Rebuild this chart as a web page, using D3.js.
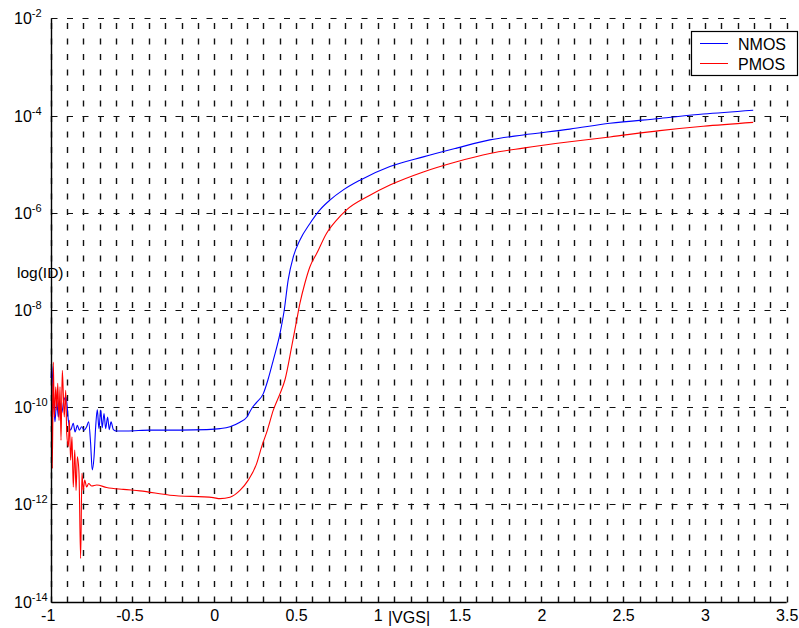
<!DOCTYPE html>
<html>
<head>
<meta charset="utf-8">
<script src="https://cdn.jsdelivr.net/npm/d3@7"></script>
<style>
  html, body { margin: 0; padding: 0; background: #fff; }
  svg { display: block; font-family: "Liberation Sans", Arial, Helvetica, sans-serif; }
</style>
</head>
<body>
<svg id="chart" width="799" height="628"></svg>
<script>
// Drain current vs |VGS| for an NMOS and a PMOS device (log10 of ID)
const nmosVgs = [
  -0.998, -0.994, -0.984, -0.974, -0.963, -0.954, -0.943, -0.933, -0.919, -0.906,
  -0.892, -0.878, -0.862, -0.851, -0.837, -0.825, -0.811, -0.796, -0.780, -0.768,
  -0.756, -0.746, -0.735, -0.725, -0.715, -0.705, -0.694, -0.685, -0.674, -0.664,
  -0.652, -0.642, -0.631, -0.617, -0.597, -0.535, -0.393, -0.210, -0.046, 0.035,
  0.096, 0.157, 0.200, 0.230, 0.259, 0.300, 0.328, 0.361, 0.402, 0.428,
  0.452, 0.483, 0.524, 0.585, 0.646, 0.707, 0.789, 0.891, 1.074, 1.278,
  1.482, 1.685, 1.889, 2.174, 2.419, 2.724, 2.989, 3.295
];
const nmosLogId = [
  -9.40, -9.13, -9.71, -10.30, -9.85, -10.20, -9.92, -10.12, -9.85, -9.79,
  -10.27, -10.47, -10.33, -10.51, -10.37, -10.47, -10.40, -10.47, -10.40, -10.30,
  -10.74, -11.29, -11.02, -10.40, -10.05, -10.44, -10.06, -10.42, -10.13, -10.44,
  -10.20, -10.46, -10.30, -10.46, -10.49, -10.49, -10.47, -10.47, -10.46, -10.44,
  -10.40, -10.31, -10.20, -10.02, -9.90, -9.72, -9.44, -9.03, -8.48, -8.00,
  -7.38, -6.91, -6.56, -6.22, -5.94, -5.74, -5.53, -5.33, -5.05, -4.85,
  -4.67, -4.50, -4.40, -4.28, -4.16, -4.06, -3.97, -3.89
];
const pmosVgs = [
  -0.994, -0.990, -0.984, -0.978, -0.969, -0.963, -0.957, -0.949, -0.943, -0.937,
  -0.929, -0.923, -0.917, -0.908, -0.902, -0.892, -0.886, -0.878, -0.870, -0.862,
  -0.853, -0.845, -0.837, -0.827, -0.817, -0.809, -0.801, -0.792, -0.780, -0.768,
  -0.749, -0.719, -0.658, -0.556, -0.454, -0.271, -0.006, 0.035, 0.096, 0.157,
  0.208, 0.259, 0.290, 0.325, 0.361, 0.402, 0.432, 0.473, 0.504, 0.524,
  0.554, 0.585, 0.626, 0.687, 0.748, 0.809, 0.952, 1.074, 1.278, 1.482,
  1.685, 1.889, 2.174, 2.419, 2.724, 2.989, 3.295
];
const pmosLogId = [
  -9.51, -11.26, -9.07, -10.20, -9.58, -10.06, -9.51, -10.27, -9.58, -10.68,
  -9.24, -9.72, -10.20, -9.65, -10.54, -10.81, -10.27, -11.09, -10.61, -11.64,
  -10.88, -11.71, -11.02, -11.36, -13.11, -11.36, -11.71, -11.50, -11.64, -11.57,
  -11.62, -11.60, -11.65, -11.69, -11.72, -11.81, -11.86, -11.88, -11.85, -11.71,
  -11.50, -11.16, -10.81, -10.47, -10.06, -9.72, -9.44, -8.76, -8.21, -7.86,
  -7.45, -7.11, -6.84, -6.42, -6.15, -5.94, -5.64, -5.43, -5.16, -4.95,
  -4.78, -4.67, -4.54, -4.44, -4.31, -4.22, -4.14
];

const seriesNames = ["NMOS", "PMOS"];
const seriesColors = ["#0000ff", "#ff0000"];
const xTickValues = [-1, -0.5, 0, 0.5, 1, 1.5, 2, 2.5, 3, 3.5];
const yTickExponents = [-14, -12, -10, -8, -6, -4, -2];
const xGridStep = 0.1;

const svg = d3.select("#chart");
const plotLeft = 50.7, plotRight = 786.7, plotTop = 18.3, plotBottom = 601.7;

const x = d3.scaleLinear().domain([-1, 3.5]).range([plotLeft, plotRight]);
const y = d3.scaleLinear().domain([-14, -2]).range([plotBottom, plotTop]);

const snap = v => Math.round(v) + 0.5;

// dashed grid: vertical at every 0.1 V, horizontal at each labelled decade
const grid = svg.append("g").attr("stroke", "#111").attr("fill", "none");
const gridX = d3.range(0, 46).map(i => -1 + i * xGridStep);
grid.selectAll("line.gx").data(gridX).join("line")
  .attr("class", "gx")
  .attr("x1", d => snap(x(d))).attr("x2", d => snap(x(d)))
  .attr("y1", snap(plotBottom)).attr("y2", plotTop)
  .attr("stroke-width", 1.4)
  .attr("stroke-dasharray", "6,9.5");
grid.selectAll("line.gy").data(yTickExponents).join("line")
  .attr("class", "gy")
  .attr("y1", d => snap(y(d))).attr("y2", d => snap(y(d)))
  .attr("x1", snap(plotLeft)).attr("x2", plotRight)
  .attr("stroke-width", 1.2)
  .attr("stroke-dasharray", "6,9.5");

// curves
const line = d3.line().x(d => x(d[0])).y(d => y(d[1])).curve(d3.curveMonotoneX);
const series = [
  nmosVgs.map((v, i) => [v, nmosLogId[i]]),
  pmosVgs.map((v, i) => [v, pmosLogId[i]])
];
svg.append("g").selectAll("path").data(series).join("path")
  .attr("d", line)
  .attr("fill", "none")
  .attr("stroke", (d, i) => seriesColors[i])
  .attr("stroke-width", 1.1)
  .attr("stroke-linejoin", "round");

// solid axis lines (left and bottom)
svg.append("line").attr("x1", snap(plotLeft)).attr("x2", snap(plotLeft))
  .attr("y1", plotTop).attr("y2", snap(plotBottom)).attr("stroke", "#000").attr("stroke-width", 1.4);
svg.append("line").attr("x1", snap(plotLeft)).attr("x2", plotRight)
  .attr("y1", snap(plotBottom)).attr("y2", snap(plotBottom)).attr("stroke", "#000").attr("stroke-width", 1.4);

// x tick labels
const xAxis = d3.axisBottom(x).tickValues(xTickValues).tickSize(0).tickPadding(8)
  .tickFormat(d => String(d));
const gx = svg.append("g").attr("transform", `translate(0,${plotBottom})`).call(xAxis);
gx.select(".domain").remove();
gx.selectAll("text").attr("font-size", 16).attr("fill", "#000")
  .attr("font-family", "Liberation Sans, Arial, sans-serif")
  .attr("dx", d => d < 0 ? -3 : 0);

// y tick labels as powers of ten
const ty = svg.append("g");
const lab = ty.selectAll("text").data(yTickExponents).join("text")
  .attr("x", 14).attr("y", d => y(d) + 6)
  .attr("font-size", 16).attr("fill", "#000");
lab.append("tspan").text("10");
lab.append("tspan").attr("dy", -7).attr("font-size", 11).text(d => String(d));

// axis titles
svg.append("text").attr("x", 409).attr("y", 623).attr("text-anchor", "middle")
  .attr("font-size", 16).attr("fill", "#000").text("|VGS|");
svg.append("text").attr("x", 17).attr("y", 278)
  .attr("font-size", 15.5).attr("fill", "#000").text("log(ID)");

// legend
const lg = svg.append("g");
lg.append("rect").attr("x", 691.5).attr("y", 31.5).attr("width", 106).attr("height", 44)
  .attr("fill", "#fff").attr("stroke", "#000").attr("stroke-width", 1.2);
seriesNames.forEach((name, i) => {
  const yy = 43.5 + i * 20;
  lg.append("line").attr("x1", 700).attr("x2", 728).attr("y1", yy).attr("y2", yy)
    .attr("stroke", seriesColors[i]).attr("stroke-width", 1);
  lg.append("text").attr("x", 738).attr("y", yy + 6)
    .attr("font-size", 16).attr("fill", "#000").text(name);
});
</script>
</body>
</html>
